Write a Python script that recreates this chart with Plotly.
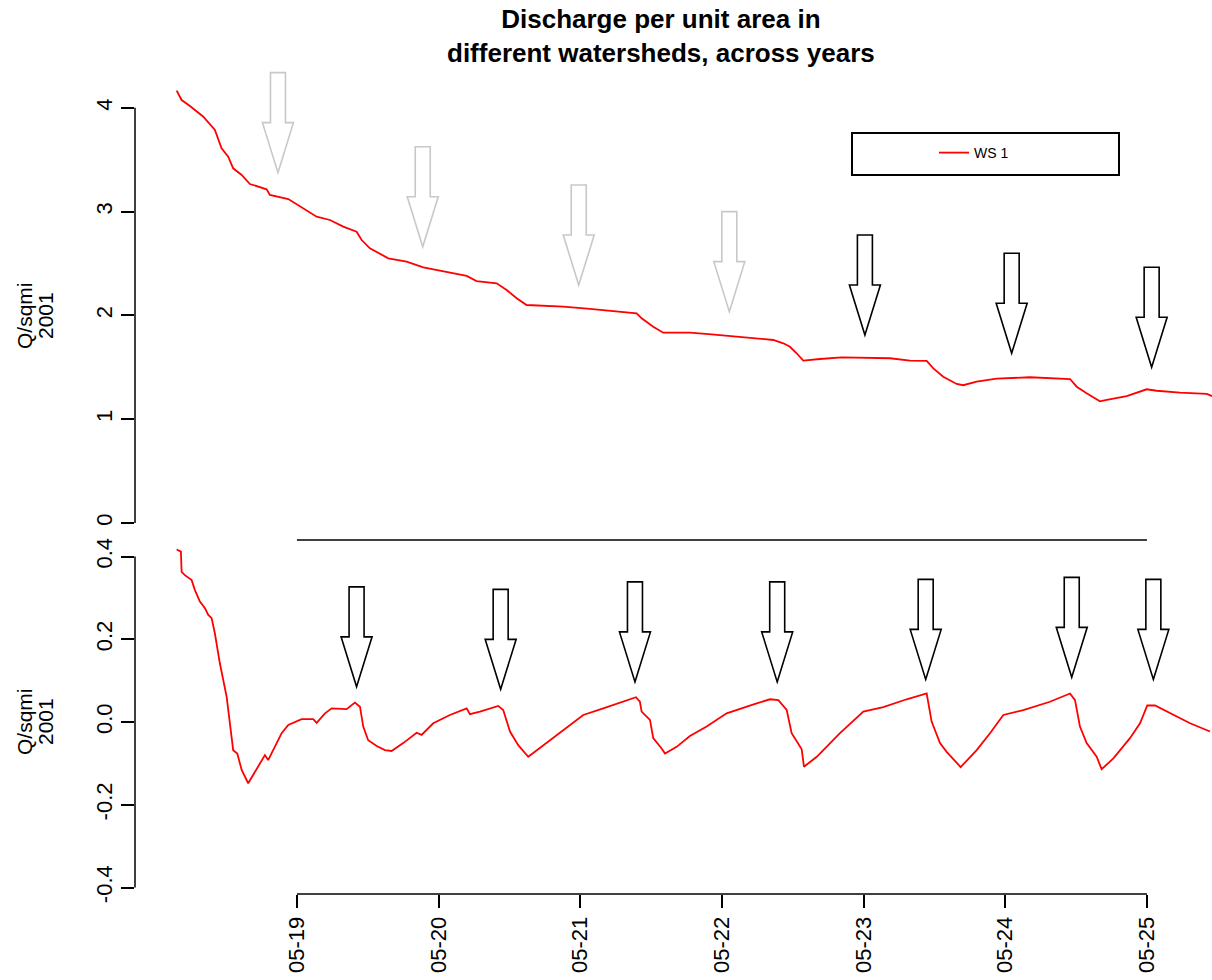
import plotly.graph_objects as go

# ---------------- data ----------------
# time as fractional day of May 2001
top_day = [18.151, 18.186, 18.245, 18.339, 18.421, 18.468, 18.515, 18.550, 18.610, 18.668,
           18.786, 18.809, 18.939, 19.044, 19.139, 19.233, 19.327, 19.421, 19.457, 19.515,
           19.645, 19.774, 19.892, 20.009, 20.198, 20.268, 20.410, 20.480, 20.551, 20.621,
           20.880, 21.068, 21.398, 21.433, 21.515, 21.586, 21.774, 21.927, 22.115, 22.245,
           22.362, 22.433, 22.480, 22.527, 22.574, 22.692, 22.845, 23.186, 23.327, 23.445,
           23.492, 23.562, 23.657, 23.703, 23.798, 23.939, 24.174, 24.457, 24.504, 24.574,
           24.668, 24.716, 24.857, 24.998, 25.069, 25.233, 25.422, 25.459]
top_q = [4.165, 4.075, 4.017, 3.914, 3.786, 3.610, 3.529, 3.417, 3.353, 3.266,
         3.215, 3.160, 3.121, 3.032, 2.951, 2.919, 2.855, 2.806, 2.726, 2.646,
         2.550, 2.517, 2.463, 2.431, 2.380, 2.331, 2.309, 2.245, 2.165, 2.100,
         2.084, 2.062, 2.020, 1.972, 1.891, 1.833, 1.833, 1.818, 1.795, 1.773,
         1.763, 1.731, 1.698, 1.635, 1.564, 1.580, 1.596, 1.587, 1.564, 1.561,
         1.490, 1.409, 1.339, 1.327, 1.361, 1.390, 1.404, 1.387, 1.313, 1.250,
         1.172, 1.185, 1.223, 1.288, 1.274, 1.255, 1.243, 1.223]

bot_day = [18.151, 18.181, 18.186, 18.209, 18.257, 18.280, 18.315, 18.351, 18.374, 18.398,
           18.421, 18.456, 18.504, 18.550, 18.579, 18.610, 18.656, 18.716, 18.751, 18.774,
           18.797, 18.845, 18.892, 18.939, 18.986, 19.033, 19.115, 19.139, 19.198, 19.245,
           19.351, 19.409, 19.445, 19.468, 19.503, 19.563, 19.621, 19.668, 19.750, 19.845,
           19.880, 19.962, 20.080, 20.198, 20.221, 20.292, 20.421, 20.456, 20.504, 20.562,
           20.633, 20.739, 20.880, 21.021, 21.162, 21.303, 21.393, 21.421, 21.433, 21.492,
           21.515, 21.574, 21.598, 21.680, 21.774, 21.892, 22.033, 22.245, 22.339, 22.398,
           22.457, 22.492, 22.563, 22.579, 22.669, 22.833, 22.998, 23.139, 23.304, 23.445,
           23.480, 23.539, 23.586, 23.685, 23.798, 23.892, 23.986, 24.127, 24.315, 24.457,
           24.492, 24.527, 24.574, 24.645, 24.680, 24.763, 24.880, 24.951, 25.002, 25.057,
           25.162, 25.304, 25.445]
bot_q = [0.417, 0.412, 0.363, 0.355, 0.343, 0.319, 0.291, 0.275, 0.259, 0.251,
         0.214, 0.142, 0.061, -0.068, -0.076, -0.116, -0.148, -0.112, -0.092, -0.080,
         -0.092, -0.060, -0.027, -0.007, 0.001, 0.007, 0.007, -0.002, 0.021, 0.033,
         0.031, 0.047, 0.037, -0.011, -0.044, -0.058, -0.068, -0.070, -0.051, -0.026,
         -0.031, -0.003, 0.017, 0.033, 0.019, 0.025, 0.039, 0.029, -0.023, -0.056,
         -0.084, -0.056, -0.019, 0.017, 0.033, 0.049, 0.060, 0.049, 0.025, 0.005,
         -0.039, -0.064, -0.076, -0.060, -0.034, -0.011, 0.021, 0.045, 0.055, 0.053,
         0.029, -0.027, -0.066, -0.108, -0.084, -0.027, 0.025, 0.036, 0.055, 0.069,
         0.001, -0.051, -0.072, -0.109, -0.068, -0.027, 0.017, 0.029, 0.049, 0.069,
         0.053, -0.011, -0.051, -0.084, -0.114, -0.088, -0.039, -0.003, 0.040, 0.040,
         0.021, -0.003, -0.023]

# arrow tips (day, value) and colours
top_arrow_day = [18.866, 19.888, 20.989, 22.052, 23.009, 24.045, 25.033]
top_arrow_q = [3.375, 2.662, 2.293, 2.036, 1.811, 1.635, 1.500]
top_arrow_col = ["#c8c8c8", "#c8c8c8", "#c8c8c8", "#c8c8c8", "black", "black", "black"]
bot_arrow_day = [19.421, 20.438, 21.386, 22.390, 23.438, 24.469, 25.045]
bot_arrow_q = [0.085, 0.079, 0.097, 0.097, 0.103, 0.108, 0.103]

x_tick_vals = [19, 20, 21, 22, 23, 24, 25]
x_tick_text = ["05-19", "05-20", "05-21", "05-22", "05-23", "05-24", "05-25"]
top_tick_vals = [0, 1, 2, 3, 4]
top_tick_text = ["0", "1", "2", "3", "4"]
bot_tick_vals = [-0.4, -0.2, 0.0, 0.2, 0.4]
bot_tick_text = ["-0.4", "-0.2", "0.0", "0.2", "0.4"]

title_text = "Discharge per unit area in<br>different watersheds, across years"
ylab1, ylab2 = "Q/sqmi", "2001"
series_name = "WS 1"

# ---------------- layout geometry (pixels) ----------------
W, H = 1212, 980
ML, MR, MT, MB = 135, 0, 64, 86
PW = W - ML - MR
PH = H - MT - MB
SPLIT_PX = 540  # boundary between panels
split = (H - MB - SPLIT_PX) / PH

x_range = [17.857, 25.459]
top_range = [-0.164, 4.422]
bot_range = [-0.4157, 0.440]

FONT = "Liberation Sans, Arial, sans-serif"

def px2paperx(px):
    return (px - ML) / PW

def px2papery(py):
    return (H - MB - py) / PH

fig = go.Figure()
fig.add_trace(go.Scatter(x=top_day, y=top_q, mode="lines", name=series_name,
                         line=dict(color="red", width=1.8), xaxis="x", yaxis="y",
                         showlegend=True))
fig.add_trace(go.Scatter(x=bot_day, y=bot_q, mode="lines", name=series_name,
                         line=dict(color="red", width=1.8), xaxis="x2", yaxis="y2",
                         showlegend=False))

axis_common = dict(showgrid=False, zeroline=False, showline=False,
                   tickfont=dict(family=FONT, size=22, color="black"),
                   ticks="outside", ticklen=13, tickwidth=1.5, tickcolor="black")

fig.update_layout(
    width=W, height=H,
    margin=dict(l=ML, r=MR, t=MT, b=MB),
    paper_bgcolor="white", plot_bgcolor="white",
    font=dict(family=FONT, color="black"),
    xaxis=dict(domain=[0, 1], anchor="y", range=x_range, showgrid=False, zeroline=False,
               showline=False, showticklabels=False, ticks=""),
    xaxis2=dict(domain=[0, 1], anchor="y2", range=x_range, matches="x",
                tickvals=x_tick_vals, ticktext=x_tick_text, tickangle=-90,
                **axis_common),
    yaxis=dict(domain=[split, 1], anchor="x", range=top_range,
               tickvals=top_tick_vals, ticktext=top_tick_text, tickangle=-90,
               **axis_common),
    yaxis2=dict(domain=[0, split], anchor="x2", range=bot_range,
                tickvals=bot_tick_vals, ticktext=bot_tick_text, tickangle=-90,
                **axis_common),
    showlegend=True,
    legend=dict(x=px2paperx(934), xref="paper", xanchor="left",
                y=px2papery(153), yref="paper", yanchor="middle",
                bgcolor="rgba(0,0,0,0)", borderwidth=0,
                font=dict(family=FONT, size=14, color="black")),
)

shapes = []
LW = 1.5
# axis lines spanning tick range only (R style)
shapes.append(dict(type="line", xref="x domain", yref="y", x0=0, x1=0,
                   y0=top_tick_vals[0], y1=top_tick_vals[-1], line=dict(color="black", width=LW)))
shapes.append(dict(type="line", xref="x2 domain", yref="y2", x0=0, x1=0,
                   y0=bot_tick_vals[0], y1=bot_tick_vals[-1], line=dict(color="black", width=LW)))
shapes.append(dict(type="line", xref="x", yref="y domain", x0=x_tick_vals[0], x1=x_tick_vals[-1],
                   y0=0, y1=0, line=dict(color="black", width=LW)))
shapes.append(dict(type="line", xref="x2", yref="y2 domain", x0=x_tick_vals[0], x1=x_tick_vals[-1],
                   y0=0, y1=0, line=dict(color="black", width=LW)))

# legend box
shapes.append(dict(type="rect", xref="paper", yref="paper",
                   x0=px2paperx(852), x1=px2paperx(1119),
                   y0=px2papery(175), y1=px2papery(133),
                   line=dict(color="black", width=2), fillcolor="rgba(0,0,0,0)"))

# block arrows, size defined in pixels and converted through the axis scales
px_per_day = PW / (x_range[1] - x_range[0])
top_px_per_unit = (PH * (1 - split)) / (top_range[1] - top_range[0])
bot_px_per_unit = (PH * split) / (bot_range[1] - bot_range[0])

ARROW = [(0, 0), (15.5, 50), (7.5, 50), (7.5, 100), (-7.5, 100), (-7.5, 50), (-15.5, 50)]

def arrow_path(xd, yv, ppu):
    pts = [(xd + dx / px_per_day, yv + dy / ppu) for dx, dy in ARROW]
    return "M" + " L".join(f"{a:.5f},{b:.5f}" for a, b in pts) + " Z"

for xd, yv, col in zip(top_arrow_day, top_arrow_q, top_arrow_col):
    shapes.append(dict(type="path", xref="x", yref="y", path=arrow_path(xd, yv, top_px_per_unit),
                       line=dict(color=col, width=1.6), fillcolor="rgba(0,0,0,0)"))
for xd, yv in zip(bot_arrow_day, bot_arrow_q):
    shapes.append(dict(type="path", xref="x2", yref="y2", path=arrow_path(xd, yv, bot_px_per_unit),
                       line=dict(color="black", width=1.6), fillcolor="rgba(0,0,0,0)"))

fig.update_layout(shapes=shapes)

ann = []
# main title (two lines, bold)
ann.append(dict(text="<b>" + title_text + "</b>", xref="paper", yref="paper",
                x=px2paperx(661), y=px2papery(2), xanchor="center", yanchor="top",
                showarrow=False, font=dict(family=FONT, size=26, color="black")))
# y-axis titles (two lines each, rotated like R's mtext)
for ycenter in (316, 722):
    for txt, xc in ((ylab1, 24), (ylab2, 45)):
        ann.append(dict(text=txt, xref="paper", yref="paper", x=px2paperx(xc),
                        y=px2papery(ycenter), xanchor="center", yanchor="middle",
                        textangle=-90, showarrow=False,
                        font=dict(family=FONT, size=21, color="black")))
fig.update_layout(annotations=ann)

fig.write_html("out.html")
